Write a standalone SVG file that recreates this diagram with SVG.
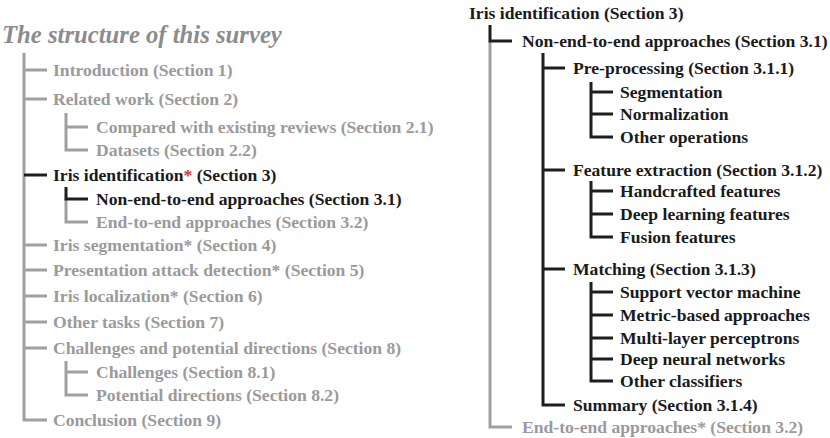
<svg xmlns="http://www.w3.org/2000/svg" width="830" height="438" viewBox="0 0 830 438">
<style>
text{font-family:"Liberation Serif","Times New Roman",serif;font-weight:bold;font-size:17.6px}
.g{fill:#9a9a9a}
.k{fill:#1a1a1a}
.r{fill:#d0343a}
.title{font-style:italic;font-size:24.7px;fill:#8c8c8c}
.lg{stroke:#a0a0a0;stroke-width:3;fill:none}
.lk{stroke:#1e1e1e;stroke-width:3;fill:none}
</style>
<rect width="830" height="438" fill="#fff"/>
<g id="connectors">
<path class="lg" d="M24 53V420H47"/>
<path class="lg" d="M24 70H47M24 99H47M24 245H47M24 270H47M24 296H47M24 322H47M24 348H47"/>
<path class="lk" d="M24 175H47"/>
<path class="lg" d="M66 113V150H88M66 127H88"/>
<path class="lg" d="M66 199V222H88"/>
<path class="lk" d="M66 187V199H88"/>
<path class="lg" d="M66 361V395H88M66 372H88"/>
<path class="lg" d="M490 41V427H512"/>
<path class="lk" d="M490 25V41H512"/>
<path class="lk" d="M543 53V405H565M543 68H565M543 170H565M543 269H565"/>
<path class="lk" d="M591 82V137H613M591 92H613M591 114H613"/>
<path class="lk" d="M591 181V237H613M591 191H613M591 214H613"/>
<path class="lk" d="M591 282V381H613M591 292H613M591 315H613M591 338H613M591 359H613"/>
</g>
<g id="title"><text class="title" x="2" y="43">The structure of this survey</text></g>
<g id="intro"><text class="g" x="53" y="76">Introduction (Section 1)</text></g>
<g id="related"><text class="g" x="53" y="105">Related work (Section 2)</text></g>
<g id="compared"><text class="g" x="96" y="133">Compared with existing reviews (Section 2.1)</text></g>
<g id="datasets"><text class="g" x="96" y="156">Datasets (Section 2.2)</text></g>
<g id="irisid"><text class="k" x="53" y="181">Iris identification<tspan class="r">*</tspan> (Section 3)</text></g>
<g id="nonend"><text class="k" x="96" y="205">Non-end-to-end approaches (Section 3.1)</text></g>
<g id="endend"><text class="g" x="96" y="228">End-to-end approaches (Section 3.2)</text></g>
<g id="irisseg"><text class="g" x="53" y="251">Iris segmentation* (Section 4)</text></g>
<g id="pad"><text class="g" x="53" y="276">Presentation attack detection* (Section 5)</text></g>
<g id="irisloc"><text class="g" x="53" y="302">Iris localization* (Section 6)</text></g>
<g id="other"><text class="g" x="53" y="328">Other tasks (Section 7)</text></g>
<g id="chal"><text class="g" x="53" y="354">Challenges and potential directions (Section 8)</text></g>
<g id="chal1"><text class="g" x="96" y="378">Challenges (Section 8.1)</text></g>
<g id="chal2"><text class="g" x="96" y="401">Potential directions (Section 8.2)</text></g>
<g id="concl"><text class="g" x="53" y="426">Conclusion (Section 9)</text></g>
<g id="r-irisid"><text class="k" x="469" y="19">Iris identification (Section 3)</text></g>
<g id="r-nonend"><text class="k" x="522" y="47">Non-end-to-end approaches (Section 3.1)</text></g>
<g id="r-pre"><text class="k" x="573" y="74">Pre-processing (Section 3.1.1)</text></g>
<g id="r-seg"><text class="k" x="620" y="98">Segmentation</text></g>
<g id="r-norm"><text class="k" x="620" y="120">Normalization</text></g>
<g id="r-otherop"><text class="k" x="620" y="143">Other operations</text></g>
<g id="r-feat"><text class="k" x="573" y="176">Feature extraction (Section 3.1.2)</text></g>
<g id="r-hand"><text class="k" x="620" y="197">Handcrafted features</text></g>
<g id="r-deep"><text class="k" x="620" y="220">Deep learning features</text></g>
<g id="r-fusion"><text class="k" x="620" y="243">Fusion features</text></g>
<g id="r-match"><text class="k" x="573" y="275">Matching (Section 3.1.3)</text></g>
<g id="r-svm"><text class="k" x="620" y="298">Support vector machine</text></g>
<g id="r-metric"><text class="k" x="620" y="321">Metric-based approaches</text></g>
<g id="r-mlp"><text class="k" x="620" y="344">Multi-layer perceptrons</text></g>
<g id="r-dnn"><text class="k" x="620" y="365">Deep neural networks</text></g>
<g id="r-othercls"><text class="k" x="620" y="387">Other classifiers</text></g>
<g id="r-summary"><text class="k" x="573" y="411">Summary (Section 3.1.4)</text></g>
<g id="r-endend"><text class="g" x="522" y="433">End-to-end approaches* (Section 3.2)</text></g>
</svg>
